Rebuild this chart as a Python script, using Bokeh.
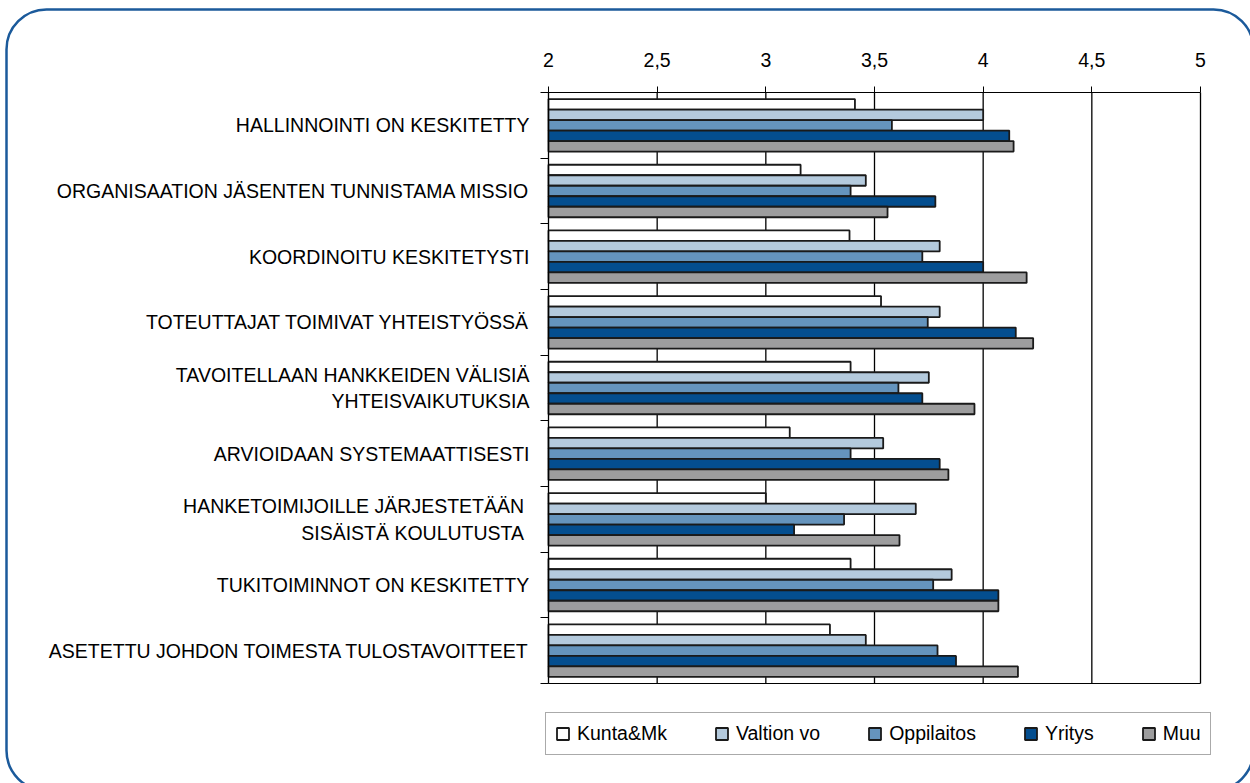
from bokeh.plotting import figure
from bokeh.models import (Range1d, FixedTicker, Legend, LegendItem, BoxAnnotation,
                          ColumnDataSource, LinearAxis)
from bokeh.transform import dodge
from bokeh.embed import file_html
from bokeh.resources import INLINE

# ---- data ----
categories = [
    "HALLINNOINTI ON KESKITETTY",
    "ORGANISAATION JÄSENTEN TUNNISTAMA MISSIO",
    "KOORDINOITU KESKITETYSTI",
    "TOTEUTTAJAT TOIMIVAT YHTEISTYÖSSÄ",
    "TAVOITELLAAN HANKKEIDEN VÄLISIÄ\nYHTEISVAIKUTUKSIA",
    "ARVIOIDAAN SYSTEMAATTISESTI",
    "HANKETOIMIJOILLE JÄRJESTETÄÄN \nSISÄISTÄ KOULUTUSTA ",
    "TUKITOIMINNOT ON KESKITETTY",
    "ASETETTU JOHDON TOIMESTA TULOSTAVOITTEET",
]
series_names = ["Kunta&Mk", "Valtion vo", "Oppilaitos", "Yritys", "Muu"]
kunta = [3.41, 3.16, 3.385, 3.53, 3.39, 3.11, 3.00, 3.39, 3.295]
valtion = [4.00, 3.46, 3.80, 3.80, 3.75, 3.54, 3.69, 3.855, 3.46]
oppilaitos = [3.58, 3.39, 3.72, 3.745, 3.61, 3.39, 3.36, 3.77, 3.79]
yritys = [4.12, 3.78, 4.00, 4.15, 3.72, 3.80, 3.13, 4.07, 3.875]
muu = [4.14, 3.56, 4.20, 4.23, 3.96, 3.84, 3.615, 4.07, 4.16]
x_ticks = [2, 2.5, 3, 3.5, 4, 4.5, 5]
x_tick_labels = ["2", "2,5", "3", "3,5", "4", "4,5", "5"]

colors = ["#ffffff", "#b4cadd", "#6594bd", "#044e8f", "#9d9d9e"]
FONT = "Liberation Sans"

# ---- layout (pixels) ----
W, H = 1250, 783
FL, FR, FT, FB = 548, 1200, 92, 683   # chart area in canvas pixels
X0, X1 = 2.0, 5.0
n = len(categories)
ppx = (FR - FL) / (X1 - X0)
ppy = (FB - FT) / n
x_range = Range1d(X0 - FL / ppx, X1 + (W - FR) / ppx)
y_range = Range1d(0 - (H - FB) / ppy, n + FT / ppy)

ypos = [n - i - 0.5 for i in range(n)]
src = ColumnDataSource(dict(y=ypos, kunta=kunta, valtion=valtion,
                            oppilaitos=oppilaitos, yritys=yritys, muu=muu))
grid_src = ColumnDataSource(dict(x=x_ticks, y0=[0] * len(x_ticks),
                                 y1=[n] * len(x_ticks)))

p = figure(width=W, height=H, x_range=x_range, y_range=y_range,
           x_axis_type=None, y_axis_type=None, title=None,
           output_backend="svg", toolbar_location=None, min_border=0)
p.outline_line_color = None
p.background_fill_color = "white"
p.border_fill_color = "white"
p.xgrid.visible = False
p.ygrid.visible = False

# vertical grid lines within the chart area (behind the bars)
p.segment(x0="x", x1="x", y0="y0", y1="y1", source=grid_src,
          line_color="black", line_width=1.3, level="underlay")

cols = ["kunta", "valtion", "oppilaitos", "yritys", "muu"]
offsets = [0.32, 0.16, 0.0, -0.16, -0.32]
rends = []
for c, off, col in zip(cols, offsets, colors):
    r = p.hbar(y=dodge("y", off, range=p.y_range), left=X0, right=c, height=0.16,
               source=src, fill_color=col, fill_alpha=1,
               line_color="#1a1a1a", line_width=1.8)
    rends.append(r)

# x axis (top)
xt = FixedTicker(ticks=x_ticks, minor_ticks=[])
xa = LinearAxis(ticker=xt, fixed_location=n, bounds=(X0, X1))
xa.major_label_overrides = {t: l for t, l in zip(x_ticks, x_tick_labels)}
xa.major_tick_out = 6
xa.major_tick_in = 0
xa.minor_tick_out = 0
xa.minor_tick_in = 0
xa.axis_line_color = "black"
xa.major_tick_line_color = "black"
xa.major_label_standoff = 20
xa.major_label_text_font = FONT
xa.major_label_text_font_size = "19.5px"
xa.major_label_text_color = "black"
p.add_layout(xa, "above")

# bottom frame line
xb = LinearAxis(ticker=FixedTicker(ticks=[], minor_ticks=[]), fixed_location=0,
                bounds=(X0, X1))
xb.axis_line_color = "black"
xb.major_label_text_font_size = "0px"
p.add_layout(xb, "below")

# y axis (left)
ya = LinearAxis(ticker=FixedTicker(ticks=ypos, minor_ticks=list(range(n + 1))),
                fixed_location=X0, bounds=(0, n))
ya.major_label_overrides = {y: lab for y, lab in zip(ypos, categories)}
ya.major_tick_out = 0
ya.major_tick_in = 0
ya.minor_tick_out = 8
ya.minor_tick_in = 0
ya.minor_tick_line_color = "black"
ya.axis_line_color = "black"
ya.major_label_standoff = 11
ya.major_label_text_font = FONT
ya.major_label_text_font_size = "19.5px"
ya.major_label_text_color = "black"
ya.major_label_text_line_height = 1.22
p.add_layout(ya, "left")

# legend
items = [LegendItem(label=series_names[i], renderers=[rends[i]]) for i in range(5)]
leg = Legend(items=items, orientation="horizontal", location=(545, H - 755),
             glyph_width=15, glyph_height=15, label_standoff=7,
             label_height=15,
             label_text_font=FONT, label_text_font_size="19.5px",
             label_text_color="black", padding=9, spacing=47,
             border_line_color="#555555", border_line_width=1.5,
             background_fill_color="white", background_fill_alpha=1)
p.add_layout(leg)

# rounded outer border
p.add_layout(BoxAnnotation(left=6, right=1253, top=9, bottom=790,
                           left_units="canvas", right_units="canvas",
                           top_units="canvas", bottom_units="canvas",
                           border_radius=40, fill_alpha=0,
                           line_color="#1b5a9b", line_alpha=1, line_width=2.5,
                           level="overlay"))

open("out.html", "w").write(file_html(p, INLINE))
